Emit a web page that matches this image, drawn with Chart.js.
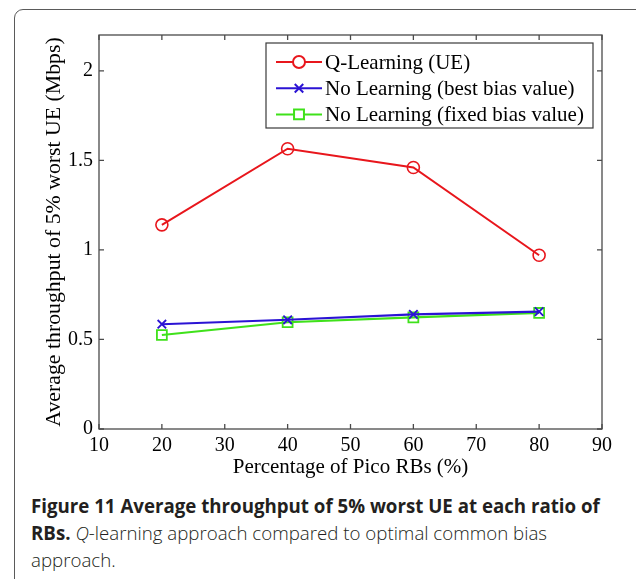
<!DOCTYPE html>
<html>
<head>
<meta charset="utf-8">
<script src="https://cdn.jsdelivr.net/npm/chart.js@4.4.0/dist/chart.umd.min.js"></script>
<style>
  body { margin: 0; background: #fff; width: 636px; height: 579px; overflow: hidden; position: relative; }
  #frame { position: absolute; left: 14px; top: 9px; width: 700px; height: 700px; border: 1px solid #5a5a5a; border-radius: 9px; }
  #chart { position: absolute; left: 0; top: 0; }
  #caption { position: absolute; left: 31px; top: 492px; font-family: "Open Sans", sans-serif; font-size: 18.7px; line-height: 27px; color: #231f20; white-space: nowrap; }
  #caption b { font-weight: 700; }
  #caption span { font-weight: 300; }
</style>
</head>
<body>
<div id="frame"></div>
<canvas id="chart" width="636" height="485"></canvas>
<div id="caption"><b>Figure 11 Average throughput of 5% worst UE at each ratio of</b><br><b>RBs.</b> <span><i>Q</i>-learning approach compared to optimal common bias</span><br><span>approach.</span></div>
<script>
const picoPercent = [20, 40, 60, 80];
const qLearning = [1.14, 1.565, 1.46, 0.97];
const bestBias = [0.585, 0.61, 0.64, 0.655];
const fixedBias = [0.525, 0.596, 0.623, 0.648];
const xTicks = [10, 20, 30, 40, 50, 60, 70, 80, 90];
const yTicks = [0, 0.5, 1, 1.5, 2];
const seriesNames = ["Q-Learning (UE)", "No Learning (best bias value)", "No Learning (fixed bias value)"];

const serif = "'Liberation Serif', 'Times New Roman', serif";

function toPoints(vals) {
  return picoPercent.map((x, i) => ({ x: x, y: vals[i] }));
}

// matlab style box with inward ticks and the legend inside the axes
const matlabBox = {
  id: "matlabBox",
  afterDatasetsDraw(chart) {
    const ctx = chart.ctx;
    const a = chart.chartArea;
    const xs = chart.scales.x, ys = chart.scales.y;
    ctx.save();
    ctx.strokeStyle = "#4a4a4a";
    ctx.lineWidth = 1.3;
    ctx.strokeRect(a.left, a.top, a.right - a.left, a.bottom - a.top);
    ctx.beginPath();
    xTicks.forEach(v => {
      const px = xs.getPixelForValue(v);
      ctx.moveTo(px, a.bottom); ctx.lineTo(px, a.bottom - 5);
      ctx.moveTo(px, a.top); ctx.lineTo(px, a.top + 5);
    });
    yTicks.forEach(v => {
      const py = ys.getPixelForValue(v);
      ctx.moveTo(a.left, py); ctx.lineTo(a.left + 5, py);
      ctx.moveTo(a.right, py); ctx.lineTo(a.right - 5, py);
    });
    ctx.stroke();

    // legend
    const bx = a.right - 9, lx = a.left + 167;
    const top = a.top + 8, bottom = a.top + 93;
    ctx.fillStyle = "#fff";
    ctx.fillRect(lx, top, bx - lx, bottom - top);
    ctx.strokeStyle = "#3a3a3a";
    ctx.lineWidth = 1.2;
    ctx.strokeRect(lx, top, bx - lx, bottom - top);
    chart.data.datasets.forEach((ds, i) => {
      const y = top + 19 + i * 26.2;
      ctx.strokeStyle = ds.borderColor;
      ctx.lineWidth = 2;
      ctx.beginPath();
      ctx.moveTo(lx + 10, y); ctx.lineTo(lx + 56, y);
      ctx.stroke();
      ctx.fillStyle = "#fff";
      Chart.helpers.drawPoint(ctx, {
        pointStyle: ds.pointStyle,
        radius: ds.pointRadius,
        borderWidth: ds.pointBorderWidth,
        rotation: 0
      }, lx + 33, y);
      ctx.fillStyle = "#000";
      ctx.font = "21px " + serif;
      ctx.textBaseline = "middle";
      ctx.fillText(ds.label, lx + 59, y + 1);
    });
    ctx.restore();
  }
};

new Chart(document.getElementById("chart"), {
  type: "line",
  data: {
    datasets: [
      {
        label: seriesNames[0],
        data: toPoints(qLearning),
        borderColor: "#e8161c",
        backgroundColor: "rgba(0,0,0,0)",
        borderWidth: 2,
        pointStyle: "circle",
        pointRadius: 6,
        pointBorderWidth: 1.6,
        pointBackgroundColor: "rgba(0,0,0,0)",
        pointBorderColor: "#e8161c"
      },
      {
        label: seriesNames[1],
        data: toPoints(bestBias),
        borderColor: "#2b13d4",
        backgroundColor: "rgba(0,0,0,0)",
        borderWidth: 2.2,
        pointStyle: "crossRot",
        pointRadius: 6,
        pointBorderWidth: 1.8,
        pointBorderColor: "#2b13d4"
      },
      {
        label: seriesNames[2],
        data: toPoints(fixedBias),
        borderColor: "#3fe11a",
        backgroundColor: "rgba(0,0,0,0)",
        borderWidth: 2.2,
        pointStyle: "rect",
        pointRadius: 7,
        pointBorderWidth: 1.8,
        pointBackgroundColor: "rgba(0,0,0,0)",
        pointBorderColor: "#3fe11a"
      }
    ]
  },
  options: {
    responsive: false,
    animation: false,
    devicePixelRatio: 1,
    layout: { padding: { left: 0, top: 35, right: 34, bottom: 0 } },
    plugins: { legend: { display: false }, tooltip: { enabled: false } },
    scales: {
      x: {
        type: "linear",
        min: 10,
        max: 90,
        grid: { display: false, drawTicks: false },
        border: { display: false },
        afterFit: s => { s.height = 56; },
        afterBuildTicks: s => { s.ticks = xTicks.map(v => ({ value: v })); },
        ticks: { color: "#000", padding: 5, maxRotation: 0, font: { family: serif, size: 20 } },
        title: { display: true, text: "Percentage of Pico RBs (%)", color: "#000", padding: { top: 0, bottom: 5 }, font: { family: serif, size: 21, lineHeight: 1.2 } }
      },
      y: {
        min: 0,
        max: 2.2,
        grid: { display: false, drawTicks: false },
        border: { display: false },
        afterFit: s => { s.width = 99; },
        afterBuildTicks: s => { s.ticks = yTicks.map(v => ({ value: v })); },
        ticks: { color: "#000", padding: 6, font: { family: serif, size: 20 }, callback: v => String(v) },
        title: { display: true, text: "Average throughput of 5% worst UE (Mbps)", color: "#000", padding: { top: 41, bottom: 0 }, font: { family: serif, size: 21.8, lineHeight: 1.2 } }
      }
    }
  },
  plugins: [matlabBox]
});
</script>
</body>
</html>
